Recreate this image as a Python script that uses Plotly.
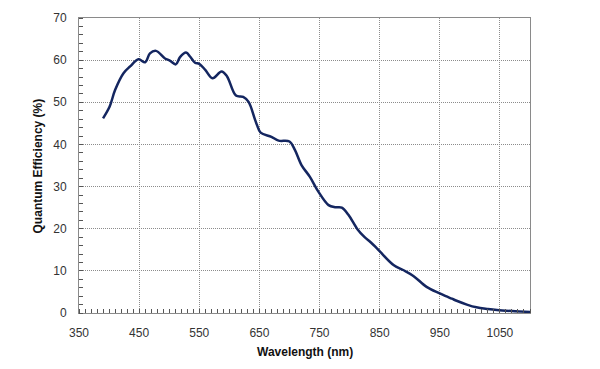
import plotly.graph_objects as go

wavelength = [390, 401, 410, 424, 435, 449, 460, 468, 478, 493, 501, 511, 518, 528, 535, 543, 550,
              560, 572, 587, 596, 611, 623, 632, 642, 646, 652, 670, 682, 700, 709, 720, 734, 748,
              765, 776, 787, 798, 813, 825, 835, 845, 851, 873, 889, 906, 928, 949, 960, 970, 978,
              995, 1011, 1030, 1045, 1070, 1100]
qe = [46.2, 49.0, 52.9, 56.9, 58.5, 60.2, 59.5, 61.6, 62.2, 60.4, 59.9, 59.0, 60.7, 61.8, 60.8, 59.4, 59.1,
      57.7, 55.7, 57.3, 56.2, 51.6, 51.3, 50.1, 46.2, 44.6, 42.8, 41.8, 40.9, 40.7, 38.7, 35.1, 32.3, 28.8,
      25.6, 25.1, 25.0, 23.3, 19.9, 18.0, 16.8, 15.4, 14.5, 11.4, 10.2, 8.8, 6.2, 4.7, 4.0, 3.4, 2.9,
      2.0, 1.35, 0.95, 0.7, 0.45, 0.25]

x_ticks = [350, 450, 550, 650, 750, 850, 950, 1050]
y_ticks = [0, 10, 20, 30, 40, 50, 60, 70]
x_title = "Wavelength (nm)"
y_title = "Quantum Efficiency (%)"

fig = go.Figure()
fig.add_trace(go.Scatter(x=wavelength, y=qe, mode="lines",
                         line=dict(color="#142660", width=2.5, shape="spline", smoothing=1.0),
                         showlegend=False, hoverinfo="skip"))

font = dict(family="Liberation Sans, Arial, sans-serif", size=12, color="#222")
fig.update_layout(
    width=600, height=369,
    margin=dict(l=71, r=78, t=10, b=64),
    paper_bgcolor="white", plot_bgcolor="white",
    font=font,
)
fig.update_xaxes(
    range=[350, 1100], tickvals=x_ticks, ticktext=[str(v) for v in x_ticks],
    showgrid=True, gridcolor="#8c8c8c", griddash="1px,1px", gridwidth=1,
    showline=True, linecolor="#8a8a8a", linewidth=1, mirror=True,
    ticks="outside", ticklen=9, tickcolor="rgba(0,0,0,0)", zeroline=False,
    minor=dict(dtick=10, tick0=350, ticks="inside", ticklen=4, tickcolor="#555", showgrid=False),
    automargin=False,
    tickfont=dict(size=12, color="#333"),
)
fig.update_yaxes(
    range=[0, 70], tickvals=y_ticks,
    showgrid=True, gridcolor="#8c8c8c", griddash="1px,1px", gridwidth=1,
    showline=True, linecolor="#8a8a8a", linewidth=1, mirror=True,
    ticks="outside", ticklen=9, tickcolor="rgba(0,0,0,0)", zeroline=False,
    minor=dict(dtick=2, ticks="inside", ticklen=4, tickcolor="#555", showgrid=False),
    automargin=False,
    tickfont=dict(size=12, color="#333"),
)
fig.add_annotation(text="<b>" + x_title + "</b>", xref="paper", yref="paper",
                   x=0.5, y=-0.132, showarrow=False, font=dict(size=12, color="#111"),
                   xanchor="center", yanchor="middle")
fig.add_annotation(text="<b>" + y_title + "</b>", xref="paper", yref="paper",
                   x=-0.091, y=0.5, showarrow=False, textangle=-90, font=dict(size=12, color="#111"),
                   xanchor="center", yanchor="middle")

fig.write_html("out.html")
